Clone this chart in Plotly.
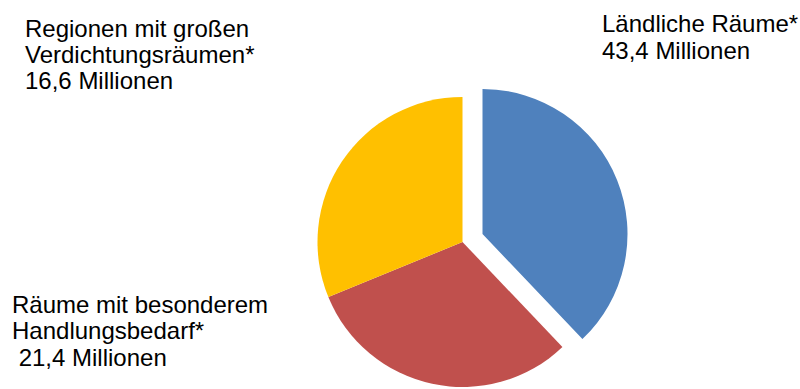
import plotly.graph_objects as go

# Data
categories = ["Ländliche Räume*", "Räume mit besonderem Handlungsbedarf*", "Regionen mit großen Verdichtungsräumen*"]
slice_values = [37.9, 30.9, 31.2]          # slice sizes
colors = ["#4F81BD", "#C0504D", "#FFC000"]
label_lines = {
    "Ländliche Räume*": ["Ländliche Räume*", "43,4 Millionen"],
    "Regionen mit großen Verdichtungsräumen*": ["Regionen mit großen", "Verdichtungsräumen*", "16,6 Millionen"],
    "Räume mit besonderem Handlungsbedarf*": ["Räume mit besonderem", "Handlungsbedarf*", "\u00a021,4 Millionen"],
}

W, H = 800, 389
FONT = "Liberation Sans, Arial, sans-serif"
TRANSP = "rgba(0,0,0,0)"

def px_dom(cx, cy, r):
    return dict(x=[(cx - r) / W, (cx + r) / W],
                y=[1 - (cy + r) / H, 1 - (cy - r) / H])

fig = go.Figure()
# main pie: non-exploded slices
fig.add_trace(go.Pie(
    labels=categories, values=slice_values, sort=False, direction="clockwise", rotation=0,
    marker=dict(colors=[TRANSP, colors[1], colors[2]], line=dict(width=0)),
    textinfo="none", hoverinfo="skip", showlegend=False,
    domain=px_dom(462.5, 242.0, 145),
))
# exploded slice
fig.add_trace(go.Pie(
    labels=categories, values=slice_values, sort=False, direction="clockwise", rotation=0,
    marker=dict(colors=[colors[0], TRANSP, TRANSP], line=dict(width=0)),
    textinfo="none", hoverinfo="skip", showlegend=False,
    domain=px_dom(482.5, 234.0, 145),
))

label_pos = {
    "Ländliche Räume*": (600, [24.0, 50.7]),
    "Regionen mit großen Verdichtungsräumen*": (22.5, [29.0, 55.0, 80.5]),
    "Räume mit besonderem Handlungsbedarf*": (9.5, [304.0, 330.7, 357.3]),
}
for cat in categories:
    x0, ys = label_pos[cat]
    for line, y in zip(label_lines[cat], ys):
        fig.add_annotation(x=x0 / W, y=1 - y / H, xref="paper", yref="paper",
                           xanchor="left", yanchor="middle", showarrow=False,
                           text=line, font=dict(family=FONT, size=24, color="#000000"))

fig.update_layout(width=W, height=H, margin=dict(l=0, r=0, t=0, b=0),
                  paper_bgcolor="white", plot_bgcolor="white")
fig.write_html("out.html")
